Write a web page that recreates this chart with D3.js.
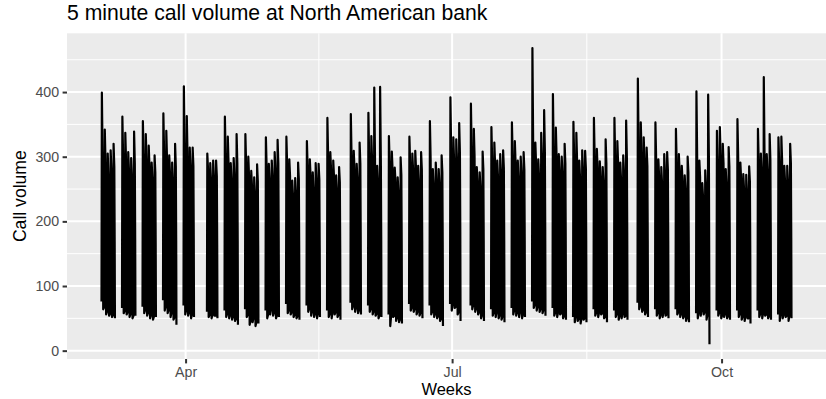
<!DOCTYPE html>
<html>
<head>
<meta charset="utf-8">
<script src="https://cdn.jsdelivr.net/npm/d3@7"></script>
<style>
  body { margin: 0; background: #fff; }
  svg { display: block; font-family: "Liberation Sans", Arial, Helvetica, sans-serif; }
</style>
</head>
<body>
<div id="chart"></div>
<script>
// Weekdays from first to last day, minus the days with no records
const firstDay = "2003-03-03";
const lastDay = "2003-10-24";
const missingDays = ["2003-04-04", "2003-04-07", "2003-05-26", "2003-07-04", "2003-09-01"];

// hour of day of each reading kept per day
const sampleHours = [7, 10, 16, 19, 21];

// calls per 5 minutes, one value per working day (one line per week)
const callsOpen = [
  76, 68, 62, 58, 56,
  66, 62, 60, 58, 55,
  68, 64, 60, 56, 54,
  78, 70, 64, 60, 52,
  70, 64, 60, 58,
  60, 56, 58, 54,
  62, 58, 56, 54, 50,
  64, 56, 48, 52, 46,
  62, 58, 66, 60, 56,
  72, 64, 60, 56, 54,
  70, 66, 62, 58, 60,
  62, 58, 64, 60, 56,
  74, 70, 68, 64,
  70, 66, 62, 58, 56,
  56, 60, 54, 52, 50,
  72, 68, 66, 62, 60,
  70, 62, 58, 54, 50,
  72, 76, 68, 60,
  70, 72, 66, 60, 56,
  64, 60, 62, 56, 54,
  66, 64, 60, 62, 58,
  76, 72, 70, 66, 64,
  66, 60, 62, 58, 54,
  52, 56, 50, 54, 50,
  64, 60, 62, 58, 52,
  62, 58, 56, 60, 54,
  74, 70, 64, 60,
  64, 60, 58, 62, 56,
  64, 60, 58, 54, 52,
  58, 62, 66, 60, 58,
  62, 60, 56, 58, 54,
  62, 58, 54, 56, 50,
  62, 58, 60, 56, 54,
  56, 60, 58, 54, 58
];

const callsPeak = [
  399, 342, 305, 310, 320,
  362, 337, 307, 298, 339,
  355, 335, 317, 291, 302,
  367, 340, 302, 291, 320,
  409, 363, 314, 314,
  305, 290, 294, 294,
  362, 331, 290, 298, 335,
  335, 300, 278, 268, 288,
  330, 289, 294, 307, 326,
  331, 296, 263, 267, 291,
  324, 296, 276, 290, 289,
  360, 307, 294, 271, 284,
  366, 309, 289, 322,
  368, 332, 407, 286, 408,
  332, 308, 283, 268, 299,
  331, 305, 309, 286, 307,
  355, 281, 291, 281, 302,
  392, 330, 327, 352,
  382, 343, 284, 276, 308,
  346, 322, 294, 304, 310,
  353, 324, 294, 300, 307,
  468, 322, 296, 337, 372,
  397, 345, 304, 300, 320,
  354, 337, 294, 310, 309,
  360, 312, 293, 284, 327,
  360, 324, 291, 302, 356,
  421, 353, 330, 314,
  353, 296, 284, 304, 307,
  343, 304, 286, 271, 300,
  401, 294, 259, 279, 396,
  340, 346, 320, 281, 315,
  358, 291, 273, 272, 285,
  343, 305, 423, 304, 335,
  330, 331, 286, 286, 320
];

const callsAfternoon = [
  300, 290, 270, 280, 285,
  300, 295, 280, 270, 290,
  300, 295, 285, 265, 275,
  305, 295, 275, 265, 285,
  310, 300, 285, 285,
  280, 265, 270, 270,
  300, 290, 265, 270, 290,
  290, 270, 255, 245, 262,
  285, 265, 270, 280, 290,
  290, 270, 240, 245, 265,
  285, 270, 250, 265, 265,
  300, 280, 270, 250, 260,
  300, 280, 265, 290,
  300, 295, 300, 262, 295,
  290, 280, 260, 245, 272,
  290, 280, 282, 262, 280,
  295, 258, 265, 258, 275,
  310, 295, 295, 305,
  310, 300, 262, 252, 280,
  295, 290, 268, 278, 282,
  300, 290, 268, 275, 280,
  320, 290, 270, 300, 310,
  310, 300, 278, 275, 290,
  300, 295, 268, 282, 282,
  300, 282, 268, 260, 290,
  300, 290, 266, 276, 300,
  320, 305, 295, 285,
  295, 270, 260, 278, 280,
  290, 278, 262, 248, 275,
  300, 268, 238, 255, 300,
  290, 300, 290, 258, 285,
  300, 266, 250, 248, 262,
  295, 278, 300, 278, 295,
  290, 295, 262, 262, 290
];

const callsEvening = [
  185, 175, 165, 170, 168,
  180, 178, 170, 165, 172,
  182, 176, 170, 160, 166,
  186, 178, 168, 160, 170,
  190, 182, 172, 172,
  170, 162, 166, 164,
  182, 176, 162, 165, 172,
  176, 165, 155, 150, 158,
  172, 162, 166, 170, 175,
  176, 165, 148, 150, 160,
  172, 165, 152, 160, 160,
  182, 170, 164, 152, 158,
  182, 170, 162, 176,
  182, 178, 182, 160, 178,
  175, 170, 158, 150, 165,
  176, 170, 172, 160, 170,
  178, 158, 162, 158, 166,
  188, 178, 178, 184,
  188, 182, 160, 154, 170,
  178, 175, 162, 168, 170,
  182, 176, 162, 166, 170,
  194, 176, 164, 182, 188,
  188, 182, 168, 166, 175,
  182, 178, 162, 170, 170,
  182, 170, 162, 158, 175,
  182, 176, 162, 168, 182,
  194, 185, 178, 172,
  178, 164, 158, 168, 170,
  175, 168, 158, 150, 166,
  182, 162, 145, 155, 120,
  176, 182, 176, 156, 172,
  182, 162, 152, 150, 158,
  178, 168, 182, 168, 178,
  175, 178, 158, 158, 175
];

const callsClose = [
  64, 56, 54, 52, 50,
  58, 56, 52, 50, 54,
  58, 54, 50, 48, 52,
  62, 58, 52, 48, 40,
  56, 54, 50, 52,
  52, 50, 54, 50,
  52, 50, 48, 46, 40,
  52, 40, 44, 38, 42,
  50, 56, 54, 50, 52,
  58, 56, 52, 50, 48,
  60, 54, 52, 50, 52,
  52, 50, 56, 52, 48,
  64, 60, 58, 56,
  60, 56, 54, 50, 52,
  38, 52, 46, 44, 42,
  62, 60, 56, 54, 50,
  56, 52, 50, 46, 38,
  62, 66, 56, 46,
  64, 60, 56, 50, 46,
  54, 52, 50, 48, 44,
  56, 54, 52, 50, 52,
  66, 62, 60, 58, 54,
  54, 52, 56, 50, 48,
  44, 46, 42, 48, 44,
  54, 52, 56, 50, 44,
  52, 48, 50, 52, 48,
  64, 60, 56, 52,
  54, 50, 52, 54, 50,
  56, 52, 50, 46, 44,
  50, 54, 56, 48, 10,
  54, 50, 52, 50, 48,
  52, 48, 46, 50, 42,
  52, 50, 54, 50, 48,
  46, 50, 52, 46, 50
];

const yBreaks = [0, 100, 200, 300, 400];
const xBreaks = ["2003-04-01", "2003-07-01", "2003-10-01"];

const width = 826;
const height = 399;
const panel = { left: 67, right: 826, top: 33.3, bottom: 359 };

const parseDay = d3.utcParse("%Y-%m-%d");
const formatDay = d3.utcFormat("%Y-%m-%d");
const missing = new Set(missingDays);

const days = d3
  .utcDays(parseDay(firstDay), d3.utcDay.offset(parseDay(lastDay), 1))
  .filter((d) => d.getUTCDay() !== 0 && d.getUTCDay() !== 6 && !missing.has(formatDay(d)));

const series = [callsOpen, callsPeak, callsAfternoon, callsEvening, callsClose];

// null marks a break in the line (weekends and missing days)
const points = [];
days.forEach((day, i) => {
  if (i > 0 && d3.utcDay.count(days[i - 1], day) > 1) points.push(null);
  sampleHours.forEach((h, k) => {
    points.push({ time: d3.utcHour.offset(day, h), value: series[k][i] });
  });
});

const valid = points.filter((d) => d !== null);

// ggplot style 5% expansion of the data range
const tExt = d3.extent(valid, (d) => d.time);
const tPad = (tExt[1] - tExt[0]) * 0.05;
const x = d3
  .scaleUtc()
  .domain([new Date(+tExt[0] - tPad), new Date(+tExt[1] + tPad)])
  .range([panel.left, panel.right]);

const vExt = d3.extent(valid, (d) => d.value);
const vPad = (vExt[1] - vExt[0]) * 0.05;
const y = d3
  .scaleLinear()
  .domain([vExt[0] - vPad, vExt[1] + vPad])
  .range([panel.bottom, panel.top]);

const svg = d3
  .select('#chart')
  .append('svg')
  .attr('width', width)
  .attr('height', height);

svg.append('rect').attr('width', width).attr('height', height).attr('fill', '#ffffff');

svg
  .append('rect')
  .attr('x', panel.left)
  .attr('y', panel.top)
  .attr('width', panel.right - panel.left)
  .attr('height', panel.bottom - panel.top)
  .attr('fill', '#EBEBEB');

const grid = svg.append('g').attr('stroke', '#ffffff').attr('fill', 'none');

// minor grid: midpoints between major breaks
const yMinor = d3
  .range(yBreaks[0] - 50, y.domain()[1], 100)
  .filter((v) => v > y.domain()[0] && v < y.domain()[1]);
const xMajor = xBreaks.map(parseDay);
const xMinor = d3.pairs(xMajor).map(([a, b]) => new Date((+a + +b) / 2));

grid
  .selectAll('line.ymin')
  .data(yMinor)
  .enter()
  .append('line')
  .attr('x1', panel.left)
  .attr('x2', panel.right)
  .attr('y1', (d) => y(d))
  .attr('y2', (d) => y(d))
  .attr('stroke-width', 1);

grid
  .selectAll('line.xmin')
  .data(xMinor)
  .enter()
  .append('line')
  .attr('x1', (d) => x(d))
  .attr('x2', (d) => x(d))
  .attr('y1', panel.top)
  .attr('y2', panel.bottom)
  .attr('stroke-width', 1);

grid
  .selectAll('line.ymaj')
  .data(yBreaks)
  .enter()
  .append('line')
  .attr('x1', panel.left)
  .attr('x2', panel.right)
  .attr('y1', (d) => y(d))
  .attr('y2', (d) => y(d))
  .attr('stroke-width', 2);

grid
  .selectAll('line.xmaj')
  .data(xMajor)
  .enter()
  .append('line')
  .attr('x1', (d) => x(d))
  .attr('x2', (d) => x(d))
  .attr('y1', panel.top)
  .attr('y2', panel.bottom)
  .attr('stroke-width', 2);

const line = d3
  .line()
  .defined((d) => d !== null)
  .x((d) => x(d.time))
  .y((d) => y(d.value));

svg
  .append('path')
  .datum(points)
  .attr('d', line)
  .attr('fill', 'none')
  .attr('stroke', '#000000')
  .attr('stroke-width', 2.2)
  .attr('stroke-linejoin', 'round');

// axes
const xAxis = svg
  .append('g')
  .attr('transform', `translate(0,${panel.bottom})`)
  .call(d3.axisBottom(x).tickValues(xMajor).tickFormat(d3.utcFormat('%b')).tickSize(4.4).tickPadding(3.5));

const yAxis = svg
  .append('g')
  .attr('transform', `translate(${panel.left},0)`)
  .call(d3.axisLeft(y).tickValues(yBreaks).tickSize(4.4).tickPadding(3.5));

[xAxis, yAxis].forEach((g) => {
  g.select('.domain').remove();
  g.selectAll('.tick line').attr('stroke', '#333333').attr('stroke-width', 2);
  g.selectAll('.tick text')
    .attr('fill', '#4D4D4D')
    .style('font-size', '14.2px')
    .style('font-family', '"Liberation Sans", Arial, sans-serif');
});

// titles
svg
  .append('text')
  .attr('x', panel.left)
  .attr('y', 20)
  .attr('fill', '#000000')
  .style('font-size', '21.2px')
  .text('5 minute call volume at North American bank');

svg
  .append('text')
  .attr('x', (panel.left + panel.right) / 2)
  .attr('y', 395.2)
  .attr('text-anchor', 'middle')
  .attr('fill', '#000000')
  .style('font-size', '16.5px')
  .text('Weeks');

svg
  .append('text')
  .attr('transform', `translate(26,${(panel.top + panel.bottom) / 2}) rotate(-90)`)
  .attr('text-anchor', 'middle')
  .attr('fill', '#000000')
  .style('font-size', '17.6px')
  .text('Call volume');
</script>
</body>
</html>
